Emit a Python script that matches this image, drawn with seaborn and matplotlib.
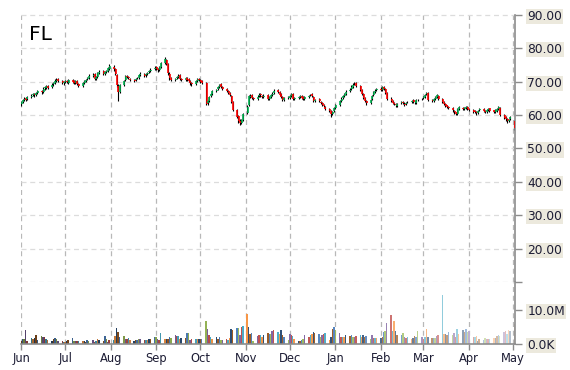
import numpy as np
import pandas as pd
import matplotlib
matplotlib.use("Agg")
import matplotlib.pyplot as plt
import matplotlib.dates as mdates
import matplotlib.colors as mcolors
import seaborn as sns

ticker = "FL"

close = [
    63.8, 64.4, 64.9, 64.6, 65.3, 65.8, 66.2, 65.9, 66.7, 67.2, 66.8, 67.9, 68.3, 68.6, 68.2, 69.1, 69.5, 70.3, 70.6, 70.1, 69.6, 69.9,
    70.2, 69.8, 70.4, 70.0, 69.6, 70.1, 69.3, 68.8, 69.5, 70.2, 70.6, 71.0, 71.8, 72.1, 70.9, 71.4, 72.6, 73.0, 72.4, 72.8, 73.1, 74.0, 74.6,
    73.8, 72.2, 69.0, 66.8, 68.9, 70.2, 71.7, 71.5, 71.0, 70.6, 70.3, 70.9, 71.1, 72.0, 72.4, 71.8, 72.3, 72.7, 73.1, 73.6, 74.2,
    73.9, 73.4, 74.3, 75.6, 76.8, 75.4, 72.5, 71.0, 70.6, 70.9, 71.5, 71.8, 70.9, 70.5, 71.0, 70.6, 70.1, 69.5, 69.2, 70.2, 70.8, 70.4,
    70.0, 69.6, 63.4, 64.2, 65.5, 66.3, 67.1, 67.6, 68.4, 69.1, 68.5, 67.8, 67.2, 66.6, 65.9, 64.0, 61.6, 59.5, 58.2, 57.6, 58.4, 60.3,
    62.5, 65.6, 65.8, 65.1, 64.8, 65.5, 66.1, 65.9, 65.4, 65.8, 64.8, 65.3, 65.9, 66.4, 67.3, 66.9, 66.1, 65.4, 64.6, 65.0, 65.3,
    65.6, 66.3, 64.8, 65.1, 65.4, 65.7, 65.2, 64.9, 65.3, 65.8, 66.1, 65.6, 64.2, 64.6, 64.1, 63.5, 63.0, 62.6, 61.8, 61.1, 60.3, 61.0, 62.0,
    63.0, 64.3, 64.9, 65.6, 66.3, 67.0, 67.6, 68.5, 69.1, 69.4, 68.7, 67.6, 66.4, 65.2, 64.1, 63.6, 64.6, 65.8, 66.9, 67.3, 67.8,
    67.5, 68.3, 67.9, 66.6, 64.8, 64.2, 63.6, 63.3, 62.9, 63.4, 63.8, 63.5, 63.1, 63.7, 63.9, 64.3, 64.0, 63.8, 64.4, 64.6, 64.9,
    65.3, 66.1, 66.6, 64.5, 64.2, 64.8, 65.3, 65.9, 64.9, 63.8, 63.3, 62.8, 62.4, 62.0, 61.4, 60.9, 60.3, 61.8, 62.3, 61.9, 62.1, 62.4, 61.8,
    61.5, 61.0, 60.8, 60.5, 61.3, 61.8, 61.2, 61.0, 61.6, 61.9, 61.3, 61.0, 61.4, 61.9, 62.3, 60.0, 59.2, 58.7, 58.1, 58.6, 59.3,
    56.0,
]
open_ = [
    63.2, 63.9, 64.5, 65.0, 64.7, 65.4, 65.9, 66.3, 66.0, 66.6, 67.3, 66.9, 68.0, 68.2, 68.7, 68.3, 69.2, 69.6, 70.2, 70.7, 70.2, 69.5,
    69.8, 70.3, 69.7, 70.5, 70.1, 69.5, 70.2, 69.4, 68.7, 69.6, 70.1, 70.7, 71.1, 71.7, 72.2, 70.8, 71.5, 72.5, 73.1, 72.3, 72.9, 73.2, 73.9,
    74.5, 73.7, 72.1, 68.7, 67.0, 69.0, 70.4, 71.8, 71.4, 70.9, 70.5, 70.4, 71.0, 71.2, 72.1, 72.3, 71.9, 72.4, 72.8, 73.2, 73.7,
    74.3, 73.8, 73.5, 74.4, 75.7, 76.6, 75.2, 72.4, 71.1, 70.5, 71.0, 71.4, 71.9, 70.8, 70.4, 71.1, 70.7, 70.2, 69.6, 69.3, 70.3, 70.9,
    70.5, 70.1, 69.7, 63.5, 64.3, 65.6, 66.2, 67.2, 67.7, 68.3, 69.2, 68.4, 67.9, 67.3, 66.5, 65.8, 63.8, 61.4, 59.6, 58.3, 57.7, 58.5,
    60.5, 63.0, 65.4, 65.9, 65.2, 64.9, 65.6, 66.2, 65.8, 65.3, 65.9, 64.7, 65.4, 66.0, 66.5, 67.4, 66.8, 66.2, 65.3, 64.5, 65.1,
    65.2, 65.7, 66.2, 64.9, 65.2, 65.5, 65.8, 65.3, 64.8, 65.4, 65.9, 66.2, 65.5, 64.3, 64.7, 64.0, 63.6, 62.9, 62.5, 61.9, 61.2, 60.4, 61.1,
    62.1, 63.1, 64.2, 65.0, 65.7, 66.4, 67.1, 67.7, 68.4, 69.2, 69.5, 68.6, 67.5, 66.3, 65.1, 64.2, 63.7, 64.7, 65.9, 66.8, 67.4,
    67.9, 67.6, 68.4, 67.8, 66.5, 64.9, 64.1, 63.7, 63.4, 62.8, 63.5, 63.9, 63.4, 63.2, 63.8, 64.0, 64.4, 63.9, 63.7, 64.5, 64.7,
    65.0, 65.4, 66.2, 66.5, 64.6, 64.3, 64.9, 65.4, 65.8, 64.8, 63.9, 63.2, 62.9, 62.3, 62.1, 61.3, 60.8, 60.4, 61.9, 62.2, 61.8, 62.2, 62.5,
    61.9, 61.6, 61.1, 60.9, 60.6, 61.4, 61.9, 61.3, 60.9, 61.5, 62.0, 61.4, 60.9, 61.3, 61.8, 62.2, 60.1, 59.3, 58.8, 58.2, 58.7,
    58.3,
]
high = [
    64.3, 64.8, 65.3, 65.4, 65.7, 66.2, 66.6, 66.7, 67.0, 67.6, 67.5, 68.3, 68.7, 69.1, 69.0, 69.5, 70.0, 70.8, 71.1, 71.0, 70.5, 70.3,
    70.5, 70.6, 70.7, 70.8, 70.4, 70.4, 70.5, 69.7, 69.8, 70.5, 70.9, 71.4, 72.2, 72.5, 72.5, 71.7, 72.9, 73.4, 73.5, 73.1, 73.5, 74.4, 75.2,
    74.9, 74.0, 72.4, 69.2, 69.3, 70.5, 72.0, 72.1, 71.8, 71.2, 70.9, 71.2, 71.5, 72.4, 72.8, 72.6, 72.6, 73.0, 73.4, 74.0, 74.6,
    74.6, 74.2, 74.7, 75.9, 77.3, 76.9, 75.5, 72.8, 71.4, 71.2, 71.8, 72.2, 72.2, 71.1, 71.3, 71.4, 71.0, 70.5, 69.9, 70.5, 71.2, 71.2,
    70.8, 70.4, 70.0, 64.6, 65.8, 66.6, 67.4, 67.9, 68.7, 69.4, 69.5, 68.7, 68.2, 67.6, 66.8, 66.1, 64.1, 61.8, 60.0, 58.7, 58.7, 60.6,
    62.9, 66.0, 66.3, 66.2, 65.5, 65.9, 66.5, 66.5, 66.1, 66.2, 66.2, 65.6, 66.3, 66.8, 67.7, 67.8, 67.2, 66.5, 65.6, 65.4, 65.7,
    65.9, 66.6, 66.5, 65.4, 65.7, 66.0, 66.1, 65.6, 65.6, 66.1, 66.4, 66.5, 65.8, 64.9, 65.0, 64.3, 63.9, 63.2, 62.8, 62.2, 61.5, 61.3, 62.4,
    63.4, 64.6, 65.3, 65.9, 66.7, 67.4, 68.0, 68.9, 69.6, 69.9, 69.8, 68.9, 67.8, 66.6, 65.4, 64.5, 64.9, 66.1, 67.3, 67.7, 68.2,
    68.3, 68.7, 68.7, 68.1, 66.8, 65.3, 64.4, 64.0, 63.7, 63.7, 64.1, 64.2, 63.8, 64.0, 64.2, 64.6, 64.7, 64.2, 64.7, 64.9, 65.2,
    65.6, 66.4, 67.0, 66.8, 64.9, 65.1, 65.6, 66.2, 66.0, 65.0, 64.1, 63.5, 63.1, 62.6, 62.3, 61.6, 61.0, 62.1, 62.6, 62.5, 62.4, 62.7, 62.7,
    62.1, 61.8, 61.4, 61.1, 61.6, 62.1, 62.1, 61.5, 61.9, 62.2, 62.2, 61.6, 61.7, 62.2, 62.6, 62.4, 60.4, 59.6, 59.1, 58.9, 59.6,
    58.5,
]
low = [
    62.8, 63.5, 64.1, 64.2, 64.4, 65.0, 65.6, 65.5, 65.7, 66.3, 66.4, 66.6, 67.6, 67.9, 67.8, 68.0, 68.8, 69.3, 69.9, 69.8, 69.2, 69.1,
    69.5, 69.5, 69.4, 69.7, 69.3, 69.2, 69.0, 68.4, 68.3, 69.3, 69.8, 70.4, 70.8, 71.4, 70.5, 70.5, 71.2, 72.2, 72.1, 72.0, 72.6, 72.9, 73.6,
    73.3, 71.9, 68.5, 64.2, 66.5, 68.7, 70.1, 71.1, 70.7, 70.3, 69.9, 70.1, 70.7, 70.9, 71.8, 71.4, 71.5, 72.1, 72.5, 72.9, 73.4,
    73.5, 73.0, 73.1, 74.1, 75.4, 75.0, 72.1, 70.6, 70.2, 70.2, 70.8, 71.2, 70.5, 70.1, 70.1, 70.3, 69.8, 69.1, 68.8, 69.0, 70.0, 70.1,
    69.7, 69.3, 63.0, 63.1, 64.0, 65.3, 65.9, 66.9, 67.4, 68.0, 68.2, 67.5, 66.9, 66.3, 65.6, 63.7, 61.2, 59.1, 57.6, 57.0, 57.3, 58.2,
    60.2, 62.7, 65.0, 64.7, 64.4, 64.6, 65.3, 65.5, 65.0, 65.0, 64.4, 64.4, 65.1, 65.7, 66.2, 66.6, 65.8, 65.0, 64.2, 64.2, 64.8,
    64.9, 65.4, 64.5, 64.6, 64.9, 65.2, 64.9, 64.5, 64.5, 65.1, 65.6, 65.3, 63.9, 64.0, 63.8, 63.2, 62.7, 62.3, 61.5, 60.8, 59.4, 60.1, 60.8,
    61.8, 62.8, 63.9, 64.7, 65.4, 66.1, 66.8, 67.4, 68.1, 68.9, 68.4, 67.3, 66.1, 64.9, 63.8, 63.1, 63.4, 64.4, 65.6, 66.5, 67.1,
    67.1, 67.3, 67.5, 66.2, 64.4, 63.8, 63.2, 63.0, 62.5, 62.4, 63.2, 63.2, 62.8, 62.9, 63.5, 63.7, 63.7, 63.4, 63.4, 64.2, 64.4,
    64.7, 65.1, 65.9, 64.2, 63.9, 64.0, 64.6, 65.1, 64.6, 63.5, 63.0, 62.5, 62.1, 61.7, 61.0, 60.4, 59.9, 60.1, 61.6, 61.6, 61.6, 61.9, 61.5,
    61.2, 60.7, 60.5, 60.1, 60.3, 61.1, 60.9, 60.7, 60.6, 61.2, 61.0, 60.7, 60.6, 61.0, 61.5, 59.7, 58.8, 58.3, 57.6, 57.8, 58.4,
    55.6,
]
volume_m = [
    1.0, 1.5, 1.5, 4.1, 1.0, 1.8, 1.5, 1.8, 2.7, 1.2, 2.4, 2.0, 2.2, 1.5, 1.2, 0.9, 1.5, 1.8, 1.5, 0.9, 0.9, 0.7,
    0.7, 0.9, 1.1, 1.7, 1.0, 0.8, 0.9, 1.0, 1.0, 0.8, 0.6, 1.2, 0.9, 1.1, 0.6, 1.0, 1.4, 1.3, 1.0, 2.3, 1.5, 0.6, 1.1,
    1.3, 2.3, 4.8, 3.6, 2.2, 2.4, 1.5, 1.6, 1.7, 1.3, 0.8, 1.3, 1.1, 1.6, 1.4, 1.3, 1.3, 1.1, 1.4, 1.6, 2.0,
    2.1, 1.4, 1.2, 3.3, 1.4, 1.6, 1.4, 2.0, 1.9, 2.5, 2.3, 2.4, 1.4, 1.7, 1.8, 3.2, 3.2, 1.3, 1.6, 1.4, 1.6, 1.5,
    1.4, 1.6, 6.8, 4.4, 2.5, 2.0, 1.4, 2.0, 1.5, 2.0, 1.3, 1.3, 1.6, 1.2, 1.7, 4.4, 4.0, 4.8, 4.8, 2.7, 4.9, 5.3,
    8.8, 5.0, 3.0, 3.2, 1.0, 2.3, 2.5, 2.6, 2.1, 2.7, 3.1, 3.0, 2.8, 3.7, 4.2, 3.5, 3.0, 4.0, 2.6, 2.0, 1.3,
    2.8, 2.5, 2.4, 1.5, 1.0, 1.0, 1.3, 1.4, 2.5, 2.2, 2.6, 3.0, 3.6, 3.2, 2.8, 2.2, 2.6, 2.9, 3.1, 1.3, 2.0, 4.5, 5.0,
    4.0, 3.2, 2.2, 2.0, 2.2, 2.5, 2.4, 2.5, 2.1, 2.0, 2.3, 2.6, 2.2, 2.5, 2.0, 2.4, 1.6, 2.6, 1.8, 1.8, 1.9,
    1.8, 2.2, 3.5, 3.7, 6.2, 8.5, 3.8, 6.7, 3.8, 2.5, 2.5, 3.3, 2.0, 1.8, 2.2, 1.5, 1.9, 2.3, 2.2, 3.7, 2.0,
    1.6, 2.1, 4.3, 2.1, 1.7, 1.9, 1.7, 2.4, 2.7, 14.3, 3.0, 2.8, 2.6, 3.6, 2.5, 3.2, 2.0, 4.5, 3.0, 4.2, 3.4, 4.4, 3.5,
    3.8, 2.2, 2.0, 2.3, 1.0, 1.4, 1.2, 1.7, 1.5, 1.6, 1.4, 1.8, 1.7, 2.4, 2.6, 2.3, 3.5, 3.8, 3.0, 4.2, 3.8,
    6.0,
]
price_ticks = [20, 30, 40, 50, 60, 70, 80, 90]
volume_ticks = [0, 10]
volume_tick_labels = ["0.0K", "10.0M"]

# ---------------------------------------------------------------- styling
sns.set_theme(style="white")
plt.rcParams["font.family"] = ["DejaVu Sans"]

n = min(len(close), len(open_), len(high), len(low), len(volume_m))
dates = pd.bdate_range("2015-06-01", periods=n)
xnum = mdates.date2num(dates)
o = np.array(open_[:n]); c = np.array(close[:n])
h = np.array(high[:n]); l = np.array(low[:n])
vol = np.array(volume_m[:n])

fig = plt.figure(figsize=(5.7, 3.7), dpi=100)
W, H = 570.0, 370.0
left, right = 21 / W, 515 / W
ax = fig.add_axes([left, 1 - 282 / H, right - left, (282 - 15) / H])
axv = fig.add_axes([left, 1 - 344 / H, right - left, (344 - 282) / H], sharex=ax)

xmin = mdates.date2num(pd.Timestamp("2015-06-01")) - 0.1
xmax = mdates.date2num(pd.Timestamp("2016-05-02")) + 0.4

month_starts = pd.date_range("2015-06-01", "2016-05-01", freq="MS")
mnum = mdates.date2num(month_starts)

hgrid = "#dcdcdc"
vgrid = "#b8b8b8"
spine_c = "#8c8c8c"
label_bg = "#ece9dd"
text_c = "#1c1c34"

for a in (ax, axv):
    for s in a.spines.values():
        s.set_visible(False)
    a.set_facecolor("white")
    for m in mnum:
        a.axvline(m, color=vgrid, lw=0.9, ls=(0, (4, 3)), zorder=0)

for t in [10] + price_ticks:
    ax.axhline(t, color=hgrid, lw=0.9, ls=(0, (4, 3)), zorder=0, clip_on=False)

# candles
up = c >= o
body_colors = np.where(up, "#00b050", "#ff0000")
ax.vlines(xnum, l, h, color="black", lw=0.8, zorder=2)
ax.vlines(xnum + 0.3, np.minimum(o, c), np.maximum(o, c), colors=body_colors, lw=1.2, zorder=3)

ax.set_ylim(10, 90)
ax.set_xlim(xmin, xmax)
ax.yaxis.tick_right()
ax.set_yticks([10] + price_ticks)
ax.set_yticklabels([""] + [f"{t:.2f}" for t in price_ticks])
ax.tick_params(axis="y", right=True, length=5, width=1, color=spine_c, pad=4,
               labelsize=8.8, labelcolor=text_c)
for lab in ax.get_yticklabels():
    lab.set_bbox(dict(facecolor=label_bg, edgecolor="none", pad=0.8))
ax.tick_params(axis="x", bottom=False, labelbottom=False)
ax.spines["right"].set_visible(True)
ax.spines["right"].set_color(spine_c)
ax.spines["right"].set_linewidth(1.2)
ax.text(0.016, 0.962, ticker, transform=ax.transAxes, ha="left", va="top",
        fontsize=14.5, color="black")

# volume colours: office-like palette, darker early, paler later
base = ["#9c5a22", "#4f81bd", "#9bbb59", "#8064a2", "#c0504d", "#4bacc6", "#f79646", "#2c4d75"]
shade = np.interp(np.arange(n), [0, 60, 105, 160, 200, n - 1], [-0.35, -0.15, 0.0, 0.05, 0.35, 0.65])
cols = []
for i in range(n):
    rgb = np.array(mcolors.to_rgb(base[i % len(base)]))
    s = shade[i]
    rgb = rgb * (1 + s) if s < 0 else rgb + (1 - rgb) * s
    cols.append(mcolors.to_hex(np.clip(rgb, 0, 1)))

vdf = pd.DataFrame({"x": xnum, "vol": vol, "k": [str(i) for i in range(n)]})
sns.barplot(data=vdf, x="x", y="vol", hue="k", palette=dict(zip(vdf["k"], cols)),
            native_scale=True, dodge=False, legend=False, errorbar=None,
            width=1.0, saturation=1, linewidth=0, ax=axv, zorder=2)
axv.set_ylim(0, 18.2)
axv.set_xlim(xmin, xmax)
axv.set_xlabel(""); axv.set_ylabel("")
axv.yaxis.tick_right()
axv.set_yticks(volume_ticks)
axv.set_yticklabels(volume_tick_labels)
axv.tick_params(axis="y", right=True, left=False, length=5, width=1, color=spine_c, pad=4,
                labelsize=8.8, labelcolor=text_c)
for lab in axv.get_yticklabels():
    lab.set_bbox(dict(facecolor=label_bg, edgecolor="none", pad=0.8))
axv.spines["right"].set_visible(True)
axv.spines["bottom"].set_visible(True)
for k in ("right", "bottom"):
    axv.spines[k].set_color(spine_c)
    axv.spines[k].set_linewidth(1.2)
axv.set_xticks(mnum)
axv.set_xticklabels([d.strftime("%b") for d in month_starts])
axv.tick_params(axis="x", bottom=True, length=4, width=1, color=spine_c, pad=2,
                labelsize=8.3, labelcolor=text_c)

fig.savefig("out.png", dpi=100)
